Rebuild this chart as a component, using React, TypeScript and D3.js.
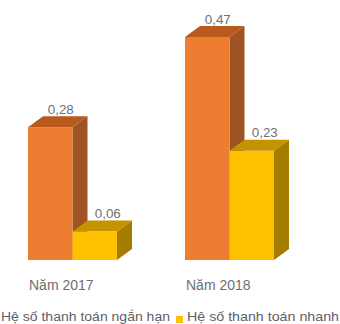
import React from "react";
import * as d3 from "d3";

const categories = ["Năm 2017", "Năm 2018"];
const seriesNames = ["Hệ số thanh toán ngắn hạn", "Hệ số thanh toán nhanh"];
const shortTerm = [0.28, 0.47];
const quick = [0.06, 0.23];
const palette = [
  { front: "#ED7D31", top: "#B9591B", side: "#9E5424" },
  { front: "#FFC000", top: "#C49400", side: "#A37C00" },
];

const WIDTH = 340;
const HEIGHT = 324;
const DEPTH_X = 15;
const DEPTH_Y = 11;
const FONT = "'Liberation Sans', Arial, sans-serif";

const y = d3.scaleLinear().domain([0, 0.47]).range([260, 37]);
const x1 = d3.scaleBand<number>().domain([0, 1]).range([0, 89]);

const formatValue = (v: number) => v.toFixed(2).replace(".", ",");
const outline = d3.line<[number, number]>();

function Bar({ left, width, value, colors, labelShift }: { left: number; width: number; value: number; colors: typeof palette[number]; labelShift: number }) {
  const top = y(value);
  const base = y(0);
  const right = left + width;
  const topFace: [number, number][] = [
    [left, top],
    [left + DEPTH_X, top - DEPTH_Y],
    [right + DEPTH_X, top - DEPTH_Y],
    [right, top],
  ];
  const sideFace: [number, number][] = [
    [right, top],
    [right + DEPTH_X, top - DEPTH_Y],
    [right + DEPTH_X, base - DEPTH_Y],
    [right, base],
  ];
  return (
    <g>
      <path d={outline(sideFace)! + "Z"} fill={colors.side} />
      <path d={outline(topFace)! + "Z"} fill={colors.top} />
      <rect x={left} y={top} width={width} height={base - top} fill={colors.front} />
      <text
        x={left + width / 2 + labelShift}
        y={top - DEPTH_Y - 2.5}
        textAnchor="middle"
        fontSize={13.4}
        fill="#6F7078"
        fontFamily={FONT}
      >
        {formatValue(value)}
      </text>
    </g>
  );
}

export default function App() {
  return (
    <svg
      width={WIDTH}
      height={HEIGHT}
      viewBox={`0 0 ${WIDTH} ${HEIGHT}`}
      style={{ position: "fixed", left: 0, top: 0, display: "block", background: "#fff" }}
    >
      {categories.map((c, i) => {
        const groupLeft = i === 0 ? 28 : 185;
        return (
          <g key={c}>
            <Bar left={groupLeft} width={x1.bandwidth()} value={shortTerm[i]} colors={palette[0]} labelShift={10.5} />
            <Bar left={groupLeft + x1(1)!} width={x1.bandwidth()} value={quick[i]} colors={palette[1]} labelShift={13} />
            <text x={groupLeft + 1} y={290} fontSize={14} fill="#6E6E6E" fontFamily={FONT}>
              {c}
            </text>
          </g>
        );
      })}
      <text x={1} y={321} fontSize={13.5} fill="#5F6066" fontFamily={FONT} textLength={169} lengthAdjust="spacingAndGlyphs">
        {seriesNames[0]}
      </text>
      <rect x={176} y={316} width={7} height={7} fill={palette[1].front} />
      <text x={187} y={321} fontSize={13.5} fill="#5F6066" fontFamily={FONT} textLength={152} lengthAdjust="spacingAndGlyphs">
        {seriesNames[1]}
      </text>
    </svg>
  );
}
